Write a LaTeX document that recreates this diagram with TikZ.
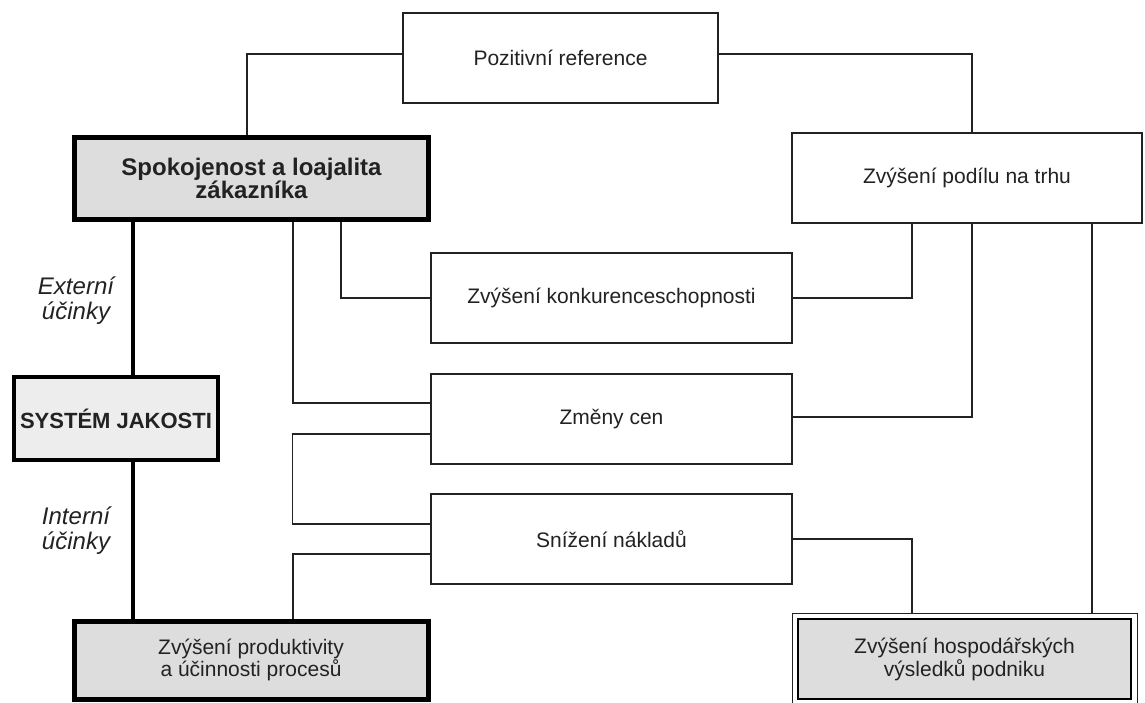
\documentclass[tikz,border=0pt]{standalone}
\usepackage{fontspec}
\setmainfont{Liberation Sans}
\definecolor{ink}{HTML}{222222}
\definecolor{fillA}{HTML}{DDDDDD}
\definecolor{fillB}{HTML}{EDEDED}
\begin{document}
\begin{tikzpicture}[x=1pt,y=-1pt,
  plainbox/.style={draw=ink,line width=1.3pt,fill=white,align=center,inner sep=0pt,
    text=ink,font=\fontsize{21}{22.5}\selectfont},
  heavybox/.style={draw=black,line width=5pt,fill=fillA,align=center,inner sep=0pt,text=ink},
  link/.style={draw=ink,line width=1.3pt},
  heavylink/.style={draw=black,line width=4.5pt},
  effect/.style={align=center,text=ink,font=\itshape\fontsize{24}{25}\selectfont}]
\useasboundingbox (0,0) rectangle (1145,702);

% boxes
\node[plainbox,minimum width=315pt,minimum height=90pt] (poz) at (560.5,58) {Pozitivní reference};
\node[plainbox,minimum width=350pt,minimum height=90pt] (podil) at (967,178) {Zvýšení podílu na trhu};
\node[plainbox,minimum width=361pt,minimum height=90pt] (konk) at (611.5,298) {Zvýšení konkurenceschopnosti};
\node[plainbox,minimum width=361pt,minimum height=90pt] (zmeny) at (611.5,419) {Změny cen};
\node[plainbox,minimum width=361pt,minimum height=90pt] (sniz) at (611.5,539) {Snížení nákladů};

\node[heavybox,minimum width=354pt,minimum height=82pt,font=\bfseries\fontsize{24}{23}\selectfont] (spok) at (251.5,178.5) {Spokojenost a loajalita\\zákazníka};
\node[heavybox,fill=fillB,line width=4.5pt,minimum width=204pt,minimum height=83pt,font=\bfseries\fontsize{22}{22}\selectfont] (syst) at (116,418.5) {SYSTÉM JAKOSTI};
\node[heavybox,minimum width=354pt,minimum height=78pt,font=\fontsize{21}{22.5}\selectfont] (prod) at (251,660) {Zvýšení produktivity\\a účinnosti procesů};
\node[heavybox,line width=2pt,minimum width=333pt,minimum height=80pt,font=\fontsize{21}{23}\selectfont] (hosp) at (964.5,659) {Zvýšení hospodářských\\výsledků podniku};
\draw[ink,line width=1pt] ([shift={(-5pt,5pt)}]hosp.north west) rectangle ([shift={(5pt,-5pt)}]hosp.south east);

% effect labels
\node[effect] (ext) at (76,301) {Externí\\účinky};
\node[effect] (int) at (76,531) {Interní\\účinky};

% thick links
\draw[heavylink] ([xshift=-118.5pt]spok.south) -- ([xshift=17pt]syst.north);
\draw[heavylink] ([xshift=17pt]syst.south) -- ([xshift=-118pt]prod.north);

% thin links
\draw[link] ([yshift=4pt]poz.west) -| ([xshift=-4.5pt]spok.north);
\draw[link] ([yshift=4pt]poz.east) -| ([xshift=5pt]podil.north);
\draw[link] ([xshift=89.5pt]spok.south) |- (konk.west);
\draw[link] ([xshift=41.5pt]spok.south) |- ([yshift=16pt]zmeny.west);
\draw[link] (konk.east) -| ([xshift=-55pt]podil.south);
\draw[link] ([yshift=2pt]zmeny.east) -| ([xshift=5pt]podil.south);
\draw[link] ([yshift=-15pt]zmeny.west) -- ++(-138pt,0) |- ([yshift=15pt]sniz.west);
\draw[link] ([yshift=-15pt]sniz.west) -| ([xshift=42pt]prod.north);
\draw[link] (sniz.east) -| ([xshift=-52.5pt,yshift=5pt]hosp.north);
\draw[link] ([xshift=125pt]podil.south) -- ([xshift=127.5pt,yshift=5pt]hosp.north);
\end{tikzpicture}
\end{document}
